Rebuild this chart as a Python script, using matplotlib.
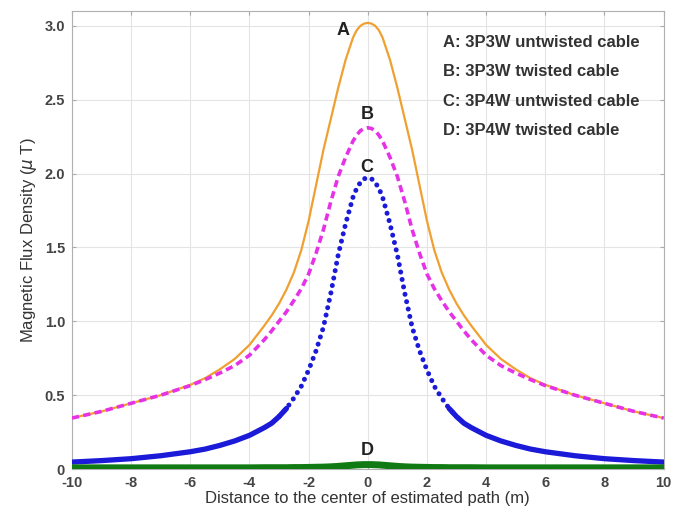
import matplotlib
matplotlib.use("Agg")
import matplotlib.pyplot as plt
import numpy as np

plt.rcParams['font.family'] = ['Liberation Sans', 'DejaVu Sans']

# half-profile distances (symmetric about 0)
half_x = [0, 0.125, 0.25, 0.375, 0.5, 0.75, 1, 1.25, 1.5, 1.75, 2, 2.25, 2.5, 2.75, 3, 3.25, 3.5, 4, 4.5, 5, 5.5, 6, 7, 8, 9, 10]
a_half = [3.02, 3.015, 3.00, 2.97, 2.92, 2.77, 2.58, 2.37, 2.16, 1.92, 1.68, 1.48, 1.33, 1.215, 1.12, 1.04, 0.97, 0.84, 0.745, 0.675, 0.615, 0.57, 0.50, 0.445, 0.39, 0.345]
b_half = [2.31, 2.305, 2.29, 2.26, 2.22, 2.11, 1.98, 1.81, 1.62, 1.46, 1.32, 1.22, 1.14, 1.065, 1.00, 0.935, 0.875, 0.77, 0.70, 0.65, 0.605, 0.565, 0.50, 0.445, 0.39, 0.345]
c_half = [1.97, 1.965, 1.94, 1.90, 1.84, 1.66, 1.45, 1.19, 0.96, 0.80, 0.67, 0.56, 0.48, 0.41, 0.355, 0.31, 0.28, 0.228, 0.19, 0.16, 0.135, 0.117, 0.09, 0.07, 0.057, 0.047]
d_half = [0.03, 0.03, 0.029, 0.028, 0.026, 0.022, 0.018, 0.015, 0.013, 0.012, 0.011, 0.010, 0.010, 0.009, 0.009, 0.009, 0.009, 0.008, 0.008, 0.008, 0.008, 0.008, 0.008, 0.008, 0.008, 0.008]

legend_lines = ["A: 3P3W untwisted cable", "B: 3P3W twisted cable",
                "C: 3P4W untwisted cable", "D: 3P4W twisted cable"]
x_ticks = [-10, -8, -6, -4, -2, 0, 2, 4, 6, 8, 10]
y_ticks = [0, 0.5, 1.0, 1.5, 2.0, 2.5, 3.0]
y_ticklabels = ["0", "0.5", "1.0", "1.5", "2.0", "2.5", "3.0"]

def full(h):
    return np.array(h[::-1][:-1] + h)

xs = np.array([-v for v in half_x[::-1]][:-1] + half_x)
A = full(a_half); B = full(b_half); C = full(c_half); D = full(d_half)

fig = plt.figure(figsize=(6.73, 5.14), dpi=100)
ax = fig.add_axes([0.107, 0.0875, 0.879, 0.891])

blue = '#1a1ad8'
ax.plot(xs, A, color='#f0a030', lw=1.6, zorder=3)
ax.plot(xs, B, color='#e632e6', lw=2.6, ls=(0, (2.0, 1.2)), zorder=3)
left = xs <= -2.75
right = xs >= 2.75
ax.plot(xs[left], C[left], color=blue, lw=3.8, solid_capstyle='round', zorder=3)
ax.plot(xs[right], C[right], color=blue, lw=3.8, solid_capstyle='round', zorder=3)
mid = np.abs(xs) <= 3
ax.plot(xs[mid], C[mid], color=blue, lw=3.6, ls=(0, (0.01, 1.5)), dash_capstyle='round', zorder=3)
ax.plot(xs, D, color='#127a12', lw=5, zorder=3)

lab_kw = dict(fontsize=13, fontweight='bold', color='#222222', ha='center', va='center')
ax.text(-0.82, 2.97, "A", **lab_kw)
ax.text(-0.03, 2.40, "B", **lab_kw)
ax.text(-0.03, 2.04, "C", **lab_kw)
ax.text(-0.03, 0.125, "D", **lab_kw)

for i, t in enumerate(legend_lines):
    ax.text(2.55, 2.885 - i * 0.197, t, fontsize=12, fontweight='bold', color='#333333',
            ha='left', va='center')

ax.set_xlim(-10, 10)
ax.set_ylim(0, 3.1)
ax.set_xticks(x_ticks)
ax.set_xticklabels([str(v) for v in x_ticks])
ax.set_yticks(y_ticks)
ax.set_yticklabels(y_ticklabels)
ax.grid(True, color='#e4e4e4', lw=0.8, zorder=0)
ax.set_axisbelow(True)
ax.tick_params(direction='in', length=3, color='#aaaaaa', labelsize=10.5, labelcolor='#444444',
               top=True, right=True, pad=5)
for lbl in ax.get_xticklabels() + ax.get_yticklabels():
    lbl.set_fontweight('bold')
for s in ax.spines.values():
    s.set_color('#b0b0b0')
ax.set_xlabel("Distance to the center of estimated path (m)", fontsize=12, color='#333333', labelpad=1)
ax.set_ylabel(r"Magnetic Flux Density ($\mu$ T)", fontsize=12, color='#333333', labelpad=4)

fig.savefig("out.png", dpi=100)
